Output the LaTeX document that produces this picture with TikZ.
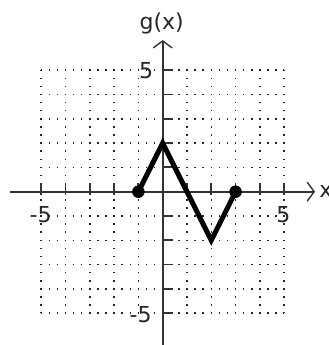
\documentclass[tikz,border=0pt]{standalone}
\usepackage{fontspec}
\setmainfont{DejaVu Sans}
\usetikzlibrary{arrows.meta}
\begin{document}
\begin{tikzpicture}[x=24.3pt,y=24.3pt,
  gridline/.style={line width=1.5pt,dash pattern=on 1.5pt off 6.6pt,dash phase=0.75pt,black!85},
  axisline/.style={line width=1.8pt,black!80},
  axisarrow/.style={axisline,-{Straight Barb[length=7pt,width=19pt,line width=1.4pt]}},
  tickline/.style={line width=1.8pt,black!80},
  lbl/.style={inner sep=0pt,font=\fontsize{22}{22}\selectfont,text=black!85},
  curve/.style={line width=5pt,line join=miter,black},
  endpt/.style={circle,fill=black,inner sep=0pt,minimum size=12.5pt}]
\useasboundingbox (-6.695,-6.309) rectangle (6.844,7.889);
% grid
\foreach \k in {-5,...,5}{
  \draw[gridline] (\k,-5) -- (\k,5);
  \draw[gridline] (-5,\k) -- (5,\k);
}
% axes
\coordinate (xl) at (-6.28,0);
\coordinate (xr) at (6.27,0);
\coordinate (yb) at (0,-6.5);
\coordinate (yt) at (0,6.24);
\draw[axisarrow] (xl) -- (xr);
\draw[axisarrow] (yb) -- (yt);
\foreach \k in {-5,-4,-3,-2,-1,1,2,3,4,5}{
  \draw[tickline] (\k,-0.15) -- (\k,0.37);
  \draw[tickline] (-0.04,\k) -- (0.42,\k);
}
% labels
\node[lbl] (gx) at (-0.04,6.94) {g(x)};
\node[lbl,anchor=west] (xlab) at (6.44,0.02) {x};
\node[lbl,anchor=east] (y5) at (-0.39,5.0) {5};
\node[lbl,anchor=east] (ym5) at (-0.45,-5.05) {-5};
\node[lbl] (xm5) at (-5.02,-0.96) {-5};
\node[lbl] (x5) at (4.97,-0.96) {5};
% graph
\coordinate (p1) at (-1,0);
\coordinate (p2) at (0,2);
\coordinate (p3) at (2,-2);
\coordinate (p4) at (3,0);
\draw[curve] (p1) -- (p2) -- (p3) -- (p4);
\node[endpt] (d1) at (p1) {};
\node[endpt] (d2) at (p4) {};
\end{tikzpicture}
\end{document}
